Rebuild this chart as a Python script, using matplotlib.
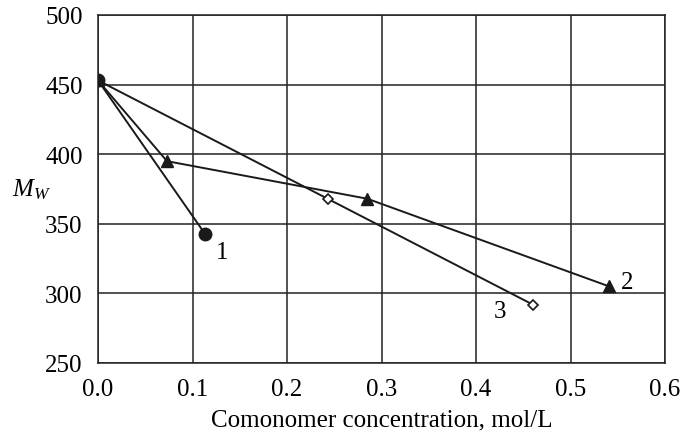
import numpy as np
import matplotlib
matplotlib.use('Agg')
from matplotlib import pyplot as plt

plt.rcParams['font.family'] = ['Liberation Serif', 'DejaVu Serif']
plt.rcParams['mathtext.fontset'] = 'custom'
plt.rcParams['mathtext.it'] = 'Liberation Serif:italic'
plt.rcParams['mathtext.rm'] = 'Liberation Serif'

# series data
x1 = [0.0, 0.113]
y1 = [453, 343]
x2 = [0.0, 0.073, 0.285, 0.541]
y2 = [453, 395, 368, 305]
x3 = [0.0, 0.243, 0.460]
y3 = [453, 368, 292]

labels = ['1', '2', '3']
label_pos = [(0.125, 330), (0.553, 308), (0.419, 287)]

xticks = [0.0, 0.1, 0.2, 0.3, 0.4, 0.5, 0.6]
yticks = [250, 300, 350, 400, 450, 500]

fig = plt.figure(figsize=(6.81, 4.35), dpi=100)
ax = fig.add_axes([98 / 681, 1 - 364 / 435, 567 / 681, 348 / 435])

# draw order 3, 2, 1 so the filled circle sits on top at the origin
ax.plot(x3, y3, color='#1a1a1a', lw=1.4, marker='D', ms=5, mfc='white', mew=1.2, zorder=3)
ax.plot(x2, y2, color='#1a1a1a', lw=1.4, marker='^', ms=9, zorder=4)
ax.plot(x1, y1, color='#1a1a1a', lw=1.4, marker='o', ms=9, zorder=5)

for t, (lx, ly) in zip(labels, label_pos):
    ax.text(lx, ly, t, fontsize=18, ha='left', va='center')

ax.set_xlim(0, 0.6)
ax.set_ylim(250, 500)
ax.set_xticks(xticks)
ax.set_yticks(yticks)
ax.set_xticklabels(['%.1f' % v for v in xticks])
ax.tick_params(length=0, labelsize=18)
ax.tick_params(axis='y', pad=11)
ax.tick_params(axis='x', pad=11)
ax.grid(True, color='#222222', lw=1.1)
for s in ax.spines.values():
    s.set_color('#222222')
    s.set_linewidth(1.1)

ax.set_xlabel('Comonomer concentration, mol/L', fontsize=18, labelpad=6)
fig.text(12 / 681, 1 - 190 / 435, r'$M_W$', fontsize=18, ha='left', va='center')

plt.savefig('out.png', dpi=100)
